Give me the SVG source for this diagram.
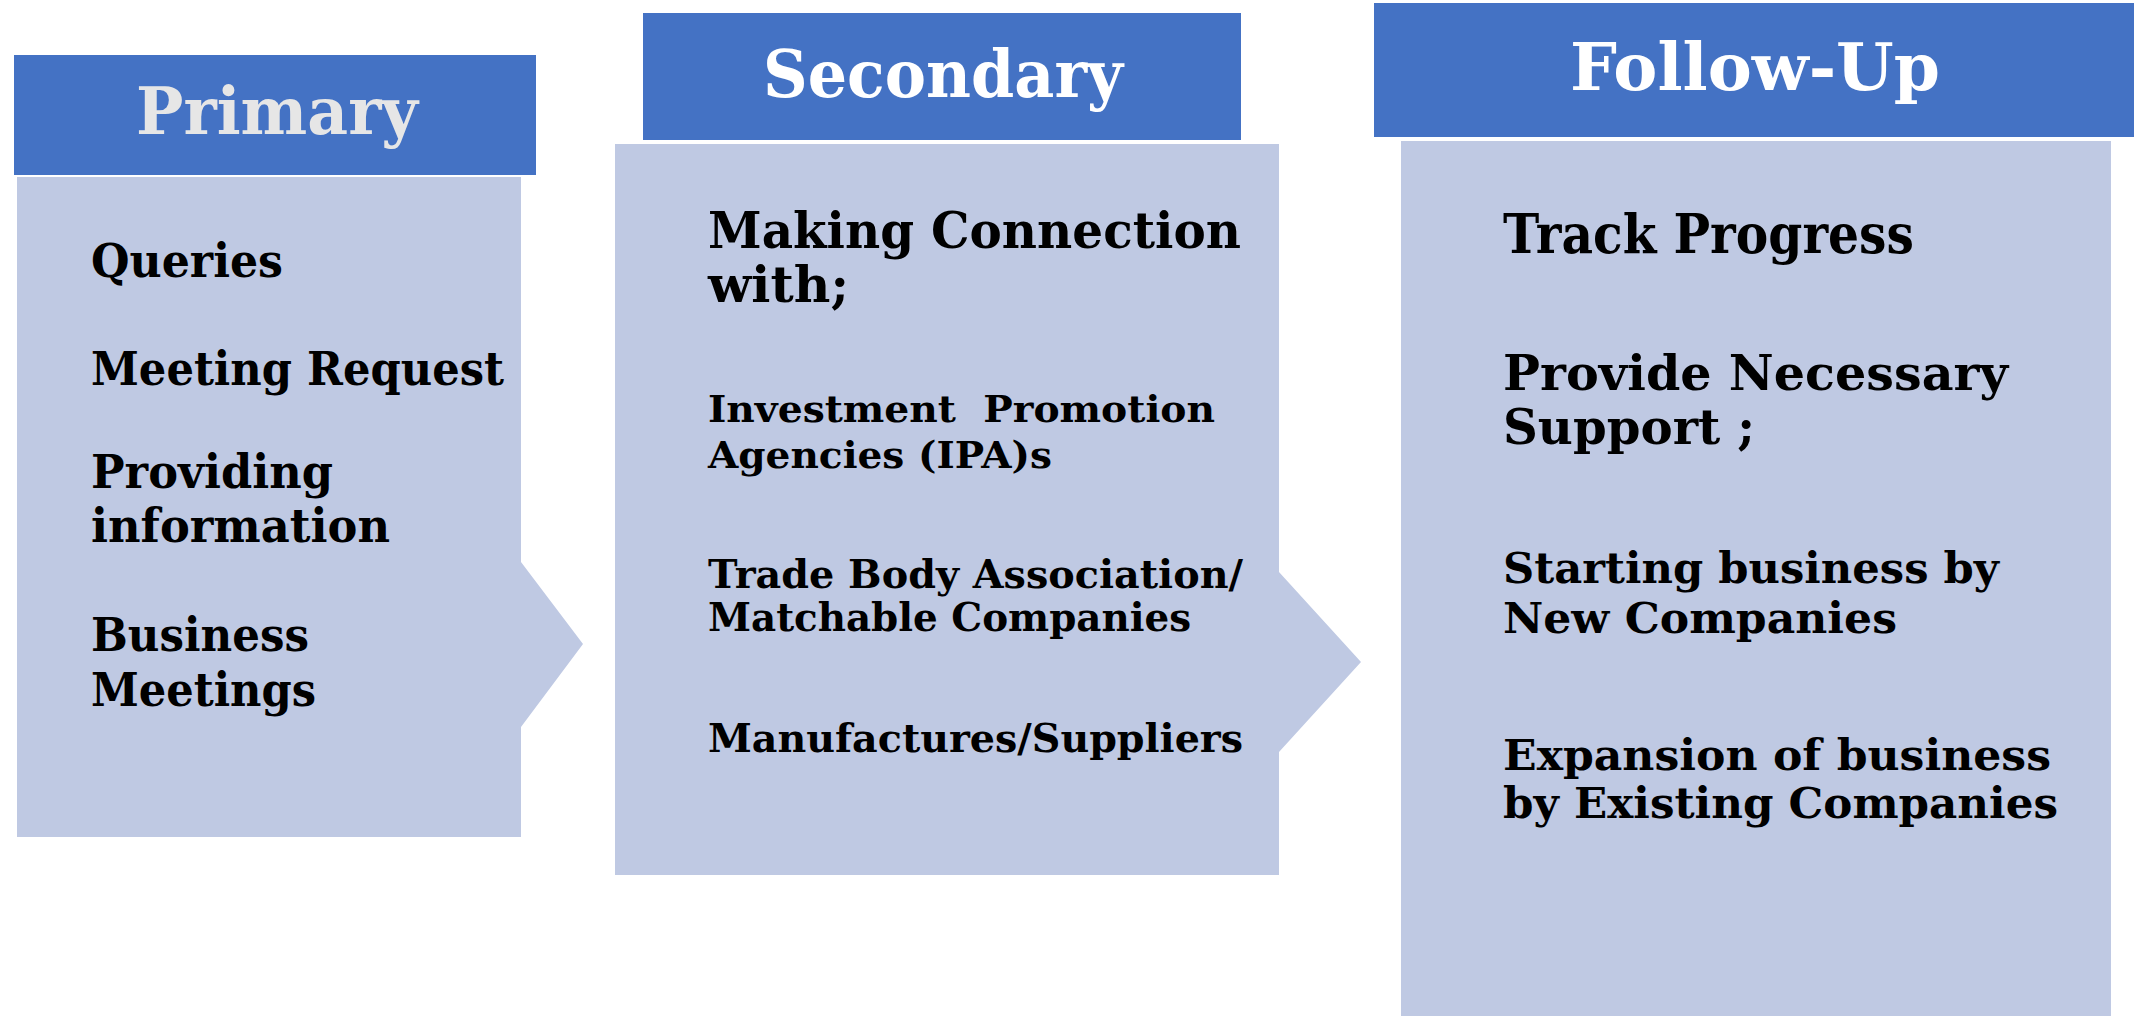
<svg xmlns="http://www.w3.org/2000/svg" width="2134" height="1016" viewBox="0 0 2134 1016">
  <style>
    .hdr { fill: #4472C4; }
    .body { fill: #BFC9E3; }
    .title { font-family: "DejaVu Serif", "Liberation Serif", serif; font-weight: bold; font-size: 66px; fill: #FFFFFF; text-anchor: middle; }
    .item { font-family: "DejaVu Serif", "Liberation Serif", serif; font-weight: bold; fill: #000000; }
  </style>
  <rect width="2134" height="1016" fill="#FFFFFF"/>

  <g id="primary">
    <polygon class="body" points="17,177 521,177 521,562 583,644 521,727 521,837 17,837"/>
    <rect class="hdr" x="14" y="55" width="522" height="120"/>
    <text class="title" x="277" y="134" style="fill:#E6E6E6" textLength="282" lengthAdjust="spacingAndGlyphs">Primary</text>
    <g class="item" font-size="47">
      <text x="91" y="277" textLength="192" lengthAdjust="spacingAndGlyphs">Queries</text>
      <text x="91" y="385" textLength="413" lengthAdjust="spacingAndGlyphs">Meeting Request</text>
      <text x="91" y="488" textLength="242" lengthAdjust="spacingAndGlyphs">Providing</text>
      <text x="91" y="542" textLength="299" lengthAdjust="spacingAndGlyphs">information</text>
      <text x="91" y="651" textLength="218" lengthAdjust="spacingAndGlyphs">Business</text>
      <text x="91" y="706" textLength="225" lengthAdjust="spacingAndGlyphs">Meetings</text>
    </g>
  </g>

  <g id="secondary">
    <polygon class="body" points="615,144 1279,144 1279,572 1361,662 1279,752 1279,875 615,875"/>
    <rect class="hdr" x="643" y="13" width="598" height="127"/>
    <text class="title" x="943" y="97" textLength="360" lengthAdjust="spacingAndGlyphs">Secondary</text>
    <g class="item">
      <text x="708" y="248" font-size="50" textLength="533" lengthAdjust="spacingAndGlyphs">Making Connection</text>
      <text x="708" y="302" font-size="50" textLength="141" lengthAdjust="spacingAndGlyphs">with;</text>
      <text x="708" y="422" font-size="37" xml:space="preserve" style="white-space:pre" textLength="507" lengthAdjust="spacingAndGlyphs">Investment  Promotion</text>
      <text x="708" y="468" font-size="37" textLength="344" lengthAdjust="spacingAndGlyphs">Agencies (IPA)s</text>
      <text x="708" y="588" font-size="39" textLength="535" lengthAdjust="spacingAndGlyphs">Trade Body Association/</text>
      <text x="708" y="631" font-size="39" textLength="483" lengthAdjust="spacingAndGlyphs">Matchable Companies</text>
      <text x="708" y="752" font-size="40" textLength="535" lengthAdjust="spacingAndGlyphs">Manufactures/Suppliers</text>
    </g>
  </g>

  <g id="follow-up">
    <rect class="body" x="1401" y="141" width="710" height="875"/>
    <rect class="hdr" x="1374" y="3" width="760" height="134"/>
    <text class="title" x="1755" y="90" textLength="370" lengthAdjust="spacingAndGlyphs">Follow-Up</text>
    <g class="item">
      <text x="1503" y="253" font-size="54" textLength="411" lengthAdjust="spacingAndGlyphs">Track Progress</text>
      <text x="1503" y="390" font-size="49" textLength="505" lengthAdjust="spacingAndGlyphs">Provide Necessary</text>
      <text x="1503" y="444" font-size="49" textLength="252" lengthAdjust="spacingAndGlyphs">Support ;</text>
      <text x="1503" y="583" font-size="43" textLength="496" lengthAdjust="spacingAndGlyphs">Starting business by</text>
      <text x="1503" y="633" font-size="43" textLength="394" lengthAdjust="spacingAndGlyphs">New Companies</text>
      <text x="1503" y="770" font-size="43" textLength="548" lengthAdjust="spacingAndGlyphs">Expansion of business</text>
      <text x="1503" y="818" font-size="43" textLength="555" lengthAdjust="spacingAndGlyphs">by Existing Companies</text>
    </g>
  </g>

  <g id="connectors"></g>
</svg>
